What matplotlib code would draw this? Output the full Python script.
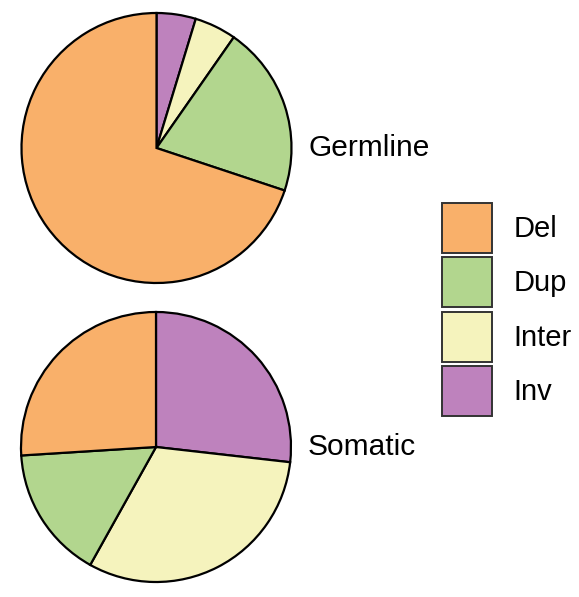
import matplotlib
matplotlib.use("Agg")
import matplotlib.pyplot as plt
from matplotlib.patches import Patch

plt.rcParams['font.family'] = ['Liberation Sans', 'DejaVu Sans']

# data (percent), legend order
categories = ['Del', 'Dup', 'Inter', 'Inv']
colors = ['#F9B06A', '#B2D68E', '#F5F3BD', '#BE82BD']
germline = [69.9, 20.4, 5.0, 4.7]
somatic = [26.0, 15.9, 31.3, 26.8]
panel_names = ['Germline', 'Somatic']

W, H = 579, 597
fig = plt.figure(figsize=(W / 100, H / 100), dpi=100)

def add_pie(cx, cy, r, values, name):
    # axes box in figure fraction around the pie centre (pixel coords)
    pad = 1.05
    ax = fig.add_axes([(cx - r * pad) / W, 1 - (cy + r * pad) / H,
                       2 * r * pad / W, 2 * r * pad / H])
    ax.pie(values[::-1], colors=colors[::-1], startangle=90, counterclock=False,
           radius=1, wedgeprops=dict(edgecolor='black', linewidth=1.6))
    ax.set_xlim(-pad, pad)
    ax.set_ylim(-pad, pad)
    ax.set_aspect('auto')
    ax.axis('off')
    fig.text((cx + r + 17) / W, 1 - cy / H, name, fontsize=21.5,
             ha='left', va='center')
    return ax

add_pie(156.5, 148, 135, germline, panel_names[0])
add_pie(156, 447, 135, somatic, panel_names[1])

fs = 21
handles = [Patch(facecolor=c, edgecolor='#333333', linewidth=1.4) for c in colors]
fig.legend(handles, categories, loc='upper left',
           bbox_to_anchor=(442 / W, 1 - 203 / H), frameon=False,
           fontsize=fs, handlelength=1.71, handleheight=2.26,
           labelspacing=0.15, handletextpad=0.75, borderaxespad=0,
           borderpad=0)

fig.savefig('out.png', dpi=100)
